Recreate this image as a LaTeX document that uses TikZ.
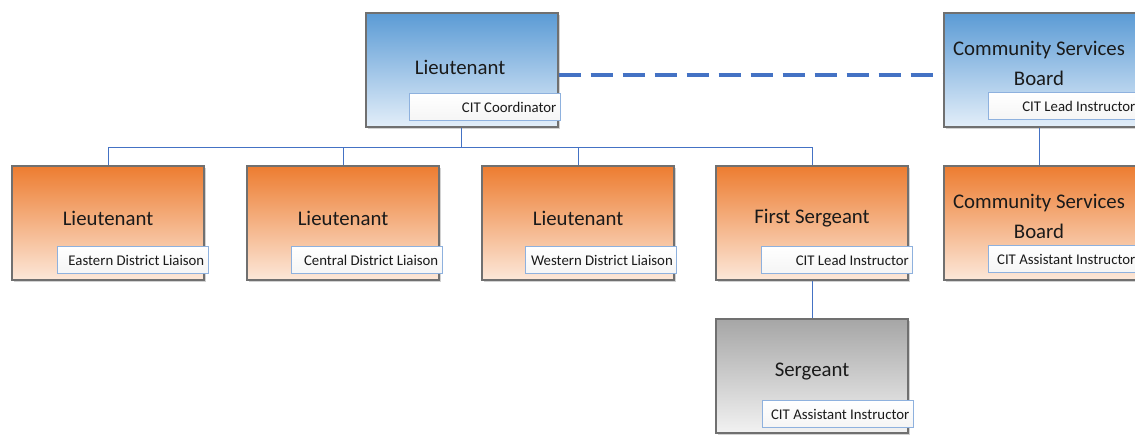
\documentclass[tikz,border=0pt]{standalone}
\usepackage{fontspec}
\setmainfont{Carlito}
\usetikzlibrary{shadows}
\definecolor{blueT}{HTML}{5B9BD5}
\definecolor{blueB}{HTML}{E3EEF9}
\definecolor{orgT}{HTML}{ED7D31}
\definecolor{orgB}{HTML}{FCE8DA}
\definecolor{grayT}{HTML}{A6A6A6}
\definecolor{grayB}{HTML}{F2F2F2}
\definecolor{frameC}{HTML}{707070}
\definecolor{lineC}{HTML}{4472C4}
\definecolor{subC}{HTML}{8EB1DE}
\definecolor{txtC}{HTML}{1A1A1A}
\tikzset{
  card/.style={draw=frameC, line width=2pt, minimum width=192pt, minimum height=114pt,
    inner sep=0pt, drop shadow={shadow xshift=2pt, shadow yshift=-2pt, fill=black!35}},
  bluecard/.style={card, top color=blueT, bottom color=blueB},
  orgcard/.style={card, top color=orgT, bottom color=orgB},
  graycard/.style={card, top color=grayT, bottom color=grayB},
  title/.style={text=txtC, font=\fontsize{20.8}{26}\selectfont, align=center, inner sep=0pt},
  subbox/.style={draw=subC, line width=1pt, top color=white, bottom color=black!4,
    minimum width=151pt, minimum height=27pt, inner sep=0pt},
  sublabel/.style={text=txtC, font=\fontsize{14.8}{16}\selectfont, inner sep=0pt, anchor=east},
  conn/.style={draw=lineC, line width=0.9pt},
  dashconn/.style={draw=lineC, line width=3.2pt, dash pattern=on 22pt off 10pt}
}
\begin{document}
\begin{tikzpicture}[x=1pt, y=-1pt]
\useasboundingbox (0,0) rectangle (1135,435);
\clip (0,0) rectangle (1135,435);
\fill[white] (0,0) rectangle (1135,435);

\coordinate (bus) at (0,147);
\node[bluecard] (lt) at (461.5,70) {};
\node[bluecard] (csb) at (1039.5,70) {};
\node[orgcard] (east) at (108,223.5) {};
\node[orgcard] (cent) at (343,223.5) {};
\node[orgcard] (west) at (578,223.5) {};
\node[orgcard] (fs) at (812,223.5) {};
\node[orgcard] (csb2) at (1039.5,223.5) {};
\node[graycard] (sgt) at (812,376) {};

\draw[conn] (lt.south) -- (lt.south |- bus);
\draw[conn] (east.north) -- (east.north |- bus) -- (fs.north |- bus) -- (fs.north);
\draw[conn] (cent.north) -- (cent.north |- bus);
\draw[conn] (west.north) -- (west.north |- bus);
\draw[conn] (fs.south) -- (sgt.north);
\draw[conn] (csb.south) -- (csb2.north);
\draw[dashconn] (lt.east |- 0,75) -- (csb.west |- 0,75);

% titles
\node[title] (ltT) at (460,67) {Lieutenant};
\node[title] (csbT) at (1039,63) {Community Services\\[4pt]Board};
\node[title] (eastT) at (108,218) {Lieutenant};
\node[title] (centT) at (343,218) {Lieutenant};
\node[title] (westT) at (578,218) {Lieutenant};
\node[title] (fsT) at (812,218) {First Sergeant};
\node[title] (csb2T) at (1039,216) {Community Services\\[4pt]Board};
\node[title] (sgtT) at (812,372) {Sergeant};

% sub boxes
\node[subbox] (ltS) at (484.5,107.5) {};
\node[sublabel] at ([xshift=-4pt]ltS.east) {CIT Coordinator};
\node[subbox] (csbS) at (1063.5,106.5) {};
\node[sublabel] at ([xshift=-4pt]csbS.east) {CIT Lead Instructor};
\node[subbox] (eastS) at (132.5,260.5) {};
\node[sublabel] at ([xshift=-4pt]eastS.east) {Eastern District Liaison};
\node[subbox] (centS) at (366.5,260.5) {};
\node[sublabel] at ([xshift=-4pt]centS.east) {Central District Liaison};
\node[subbox] (westS) at (601,260.5) {};
\node[sublabel] at ([xshift=-4pt]westS.east) {Western District Liaison};
\node[subbox] (fsS) at (837,260.5) {};
\node[sublabel] at ([xshift=-4pt]fsS.east) {CIT Lead Instructor};
\node[subbox] (csb2S) at (1063.5,259.5) {};
\node[sublabel] at ([xshift=-4pt]csb2S.east) {CIT Assistant Instructor};
\node[subbox] (sgtS) at (837.5,414) {};
\node[sublabel] at ([xshift=-4pt]sgtS.east) {CIT Assistant Instructor};
\end{tikzpicture}
\end{document}
